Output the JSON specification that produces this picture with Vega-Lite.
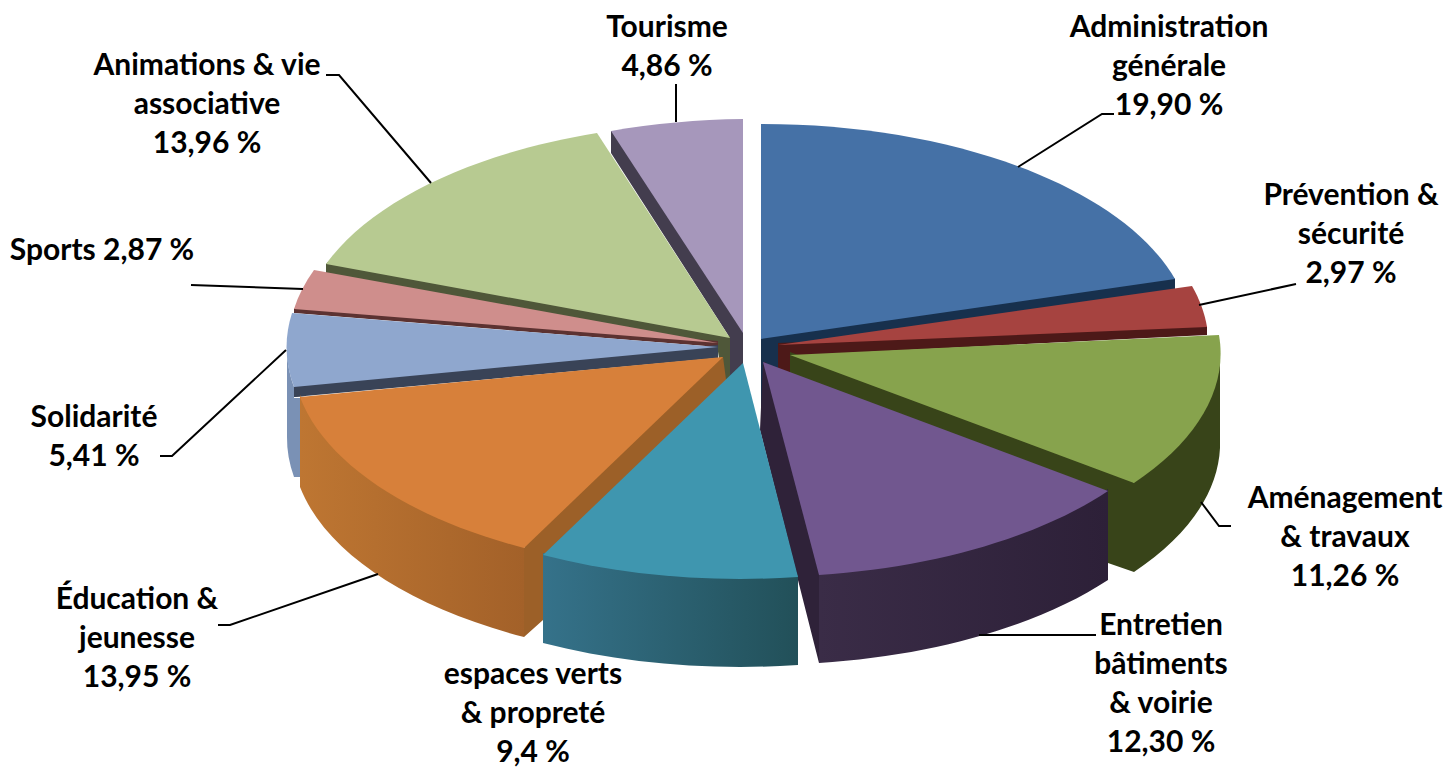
{
"$schema":"https://vega.github.io/schema/vega-lite/v6.json",
"width":1448,"height":768,"padding":0,
"autosize":"none",
"background":"white",
"view":{"stroke":null},
"config":{"style":{"cell":{"stroke":null}}},
"data":{"values":[
{"poste":"Tourisme","rang":10,"part":4.86,"etiquette":"Tourisme\n4,86 %"},
{"poste":"Animations","rang":9,"part":13.96,"etiquette":"Animations & vie\nassociative\n13,96 %"},
{"poste":"Administration","rang":1,"part":19.90,"etiquette":"Administration\ngénérale\n19,90 %"},
{"poste":"Prévention","rang":2,"part":2.97,"etiquette":"Prévention &\nsécurité\n2,97 %"},
{"poste":"Sports","rang":8,"part":2.87,"etiquette":"Sports 2,87 %"},
{"poste":"Solidarité","rang":7,"part":5.41,"etiquette":"Solidarité\n5,41 %"},
{"poste":"Aménagement","rang":3,"part":11.26,"etiquette":"Aménagement\n& travaux\n11,26 %"},
{"poste":"Éducation","rang":6,"part":13.95,"etiquette":"Éducation &\njeunesse\n13,95 %"},
{"poste":"Entretien","rang":4,"part":12.30,"etiquette":"Entretien\nbâtiments\n& voirie\n12,30 %"},
{"poste":"Espaces","rang":5,"part":9.4,"etiquette":"espaces verts\n& propreté\n9,4 %"}
]},
"resolve":{"scale":{"shape":"independent","fill":"independent","stroke":"independent"}},
"layer":[
{"transform":[{"filter":"datum.poste !== 'Espaces'"}],
 "mark":{"type":"point","filled":true,"opacity":1,"size":4,"strokeWidth":0},
 "encoding":{
  "shape":{"field":"poste","type":"nominal","legend":null,"scale":{
   "domain":["Tourisme","Animations","Administration","Prévention","Sports","Solidarité","Aménagement","Éducation","Entretien"],
   "range":[
    "M-113,-253 L-110,-253 L19,-55 L19,-19 L6,-5 L6,-46 L-113,-231 Z",
    "M-398,-120 L-396,-122 L6,-48 L6,-5 L-1,1 L-7,-39 L-398,-109 Z",
    "M37,-47 L449,-107 L451,-105 L451,-94 L66,-24 L66,16 L39,46 L37,44 Z",
    "M54,-41 L481,-59 L483,-57 L483,-49 L66,-28 L66,-9 L54,-16 Z",
    "M-430,-75 L-428,-77 L-6,-43 L-6,-37 L-430,-71 Z",
    "M-430,3 L-428,1 L-6,-39 L-6,-26 L-430,13 Z",
    "M66,-32 L408,95 L410,99 L410,188 L384,179 L384,112 L66,-8 Z",
    "M-1,-27 L3,3 L-178,175 L-181,236 L-200,253 L-200,164 L-198,160 L-3,-27 Z",
    "M39,-22 L42,-22 L99,188 L95,191 L95,279 L36,46 Z"
   ]}},
  "fill":{"field":"poste","type":"nominal","legend":null,"scale":{
   "domain":["Tourisme","Animations","Administration","Prévention","Sports","Solidarité","Aménagement","Éducation","Entretien"],
   "range":["#433D4E","#4F5739","#17304D","#4D1918","#5C3231","#394357","#384419","#9C6028","#2F2239"]}}
 }},
{"transform":[{"filter":"datum.poste === 'Solidarité' || datum.poste === 'Aménagement'"}],
 "mark":{"type":"point","filled":true,"opacity":1,"size":4,"strokeWidth":0},
 "encoding":{
  "shape":{"field":"poste","type":"nominal","legend":null,"scale":{
   "domain":["Solidarité","Aménagement"],
   "range":[
    "M-437,-39 A430,215 0 0 0 -430,3 L-430,14 L-422,14 L-422,93 L-430,93 A430,215 0 0 1 -437,53 Z",
    "M410,97 A430,215 0 0 0 496,-26 L496,64 A430,215 0 0 1 410,188 Z"
   ]}},
  "fill":{"field":"poste","type":"nominal","legend":null,"scale":{
   "domain":["Solidarité","Aménagement"],
   "range":["#7A91B5","#384419"]}}
 }},
{"transform":[{"filter":"datum.poste === 'Solidarité'"}],
 "mark":{"type":"point","filled":true,"opacity":1,"size":4,"strokeWidth":0,"fill":"#394357"},
 "encoding":{
  "shape":{"field":"poste","type":"nominal","legend":null,"scale":{
   "domain":["Solidarité"],
   "range":["M-430,3 L-418,2 L-418,12 L-430,13 Z"]}}
 }},
{"transform":[{"filter":"datum.poste === 'Éducation'"}],
 "mark":{"type":"point","filled":true,"opacity":1,"size":4,"strokeWidth":0,
  "fill":{"gradient":"linear","x1":0,"y1":0,"x2":1,"y2":0,"stops":[{"offset":0,"color":"#BE7632"},{"offset":1,"color":"#A36129"}]}},
 "encoding":{
  "shape":{"field":"poste","type":"nominal","legend":null,"scale":{
   "domain":["Éducation"],
   "range":["M-424,11 A430,215 0 0 0 -200,162 L-200,253 A430,215 0 0 1 -424,103 Z"]}}
 }},
{"transform":[{"filter":"datum.poste === 'Entretien'"}],
 "mark":{"type":"point","filled":true,"opacity":1,"size":4,"strokeWidth":0,
  "fill":{"gradient":"linear","x1":0,"y1":0,"x2":1,"y2":0,"stops":[{"offset":0,"color":"#3A2C47"},{"offset":1,"color":"#2D2038"}]}},
 "encoding":{
  "shape":{"field":"poste","type":"nominal","legend":null,"scale":{
   "domain":["Entretien"],
   "range":["M95,189 A430,215 0 0 0 384,105 L384,196 A430,215 0 0 1 95,279 Z"]}}
 }},
{"transform":[{"filter":"datum.poste === 'Espaces'"}],
 "mark":{"type":"point","filled":true,"opacity":1,"size":4,"strokeWidth":0,
  "fill":{"gradient":"linear","x1":0,"y1":0,"x2":1,"y2":0,"stops":[{"offset":0,"color":"#35728A"},{"offset":1,"color":"#225059"}]}},
 "encoding":{
  "shape":{"field":"poste","type":"nominal","legend":null,"scale":{
   "domain":["Espaces"],
   "range":["M-181,169 A430,215 0 0 0 74,191 L74,281 A430,215 0 0 1 -181,259 Z"]}}
 }},
{"mark":{"type":"point","filled":true,"opacity":1,"size":4,"strokeWidth":0},
 "encoding":{
  "shape":{"field":"poste","type":"nominal","legend":null,"scale":{
   "domain":["Tourisme","Animations","Administration","Prévention","Sports","Solidarité","Aménagement","Éducation","Entretien","Espaces"],
   "range":[
    "M19,-51 L-113,-253 A430,215 0 0 1 19,-265 Z",
    "M6,-46 L-398,-120 A430,215 0 0 1 -127,-251 Z",
    "M37,-45 L37,-260 A430,215 0 0 1 451,-105 Z",
    "M54,-39 L468,-98 A430,215 0 0 1 483,-57 Z",
    "M-6,-41 L-430,-75 A430,215 0 0 1 -410,-114 Z",
    "M-6,-37 L-430,3 A430,215 0 0 1 -432,-71 Z",
    "M66,-29 L495,-49 A430,215 0 0 1 410,99 Z",
    "M-1,-27 L-200,164 A430,215 0 0 1 -424,13 Z",
    "M39,-22 L384,107 A430,215 0 0 1 95,191 Z",
    "M19,-21 L74,193 A430,215 0 0 1 -181,171 Z"
   ]}},
  "fill":{"field":"poste","type":"nominal","legend":null,"scale":{
   "domain":["Tourisme","Animations","Administration","Prévention","Sports","Solidarité","Aménagement","Éducation","Entretien","Espaces"],
   "range":["#A697BB","#B7CA91","#4571A6","#A64340","#CF8E8C","#8FA7CE","#87A34D","#D7803A","#71578F","#3F96AF"]}}
 }},
{"mark":{"type":"point","filled":false,"fill":null,"opacity":1,"size":4,"strokeWidth":2,"stroke":"#000000"},
 "encoding":{
  "shape":{"field":"poste","type":"nominal","legend":null,"scale":{
   "domain":["Tourisme","Animations","Administration","Prévention","Sports","Solidarité","Aménagement","Éducation","Entretien","Espaces"],
   "range":[
    "M-48,-262 L-48,-300",
    "M-293,-201 L-385,-309 L-398,-309",
    "M294,-217 L378,-270 L390,-270",
    "M475,-79 L572,-100",
    "M-421,-95 L-533,-99",
    "M-438,-34 L-552,72 L-564,72",
    "M477,118 L495,142 L507,142",
    "M-346,190 L-494,241 L-506,241",
    "M255,251 L372,251",
    "M0,0"
   ]}}
 }},
{"mark":{"type":"text","font":"Lato","fontSize":30,"fontWeight":"bold","align":"center","baseline":"middle","lineBreak":"\n","lineHeight":39,"color":"#000000"},
 "encoding":{
  "text":{"field":"etiquette","type":"nominal"},
  "x":{"field":"rang","type":"quantitative","axis":null,"scale":{"zero":false,"nice":false,"domain":[1,2,3,4,5,6,7,8,9,10],"range":[1169,1351,1345,1161,533,137,94,102,207,667]}},
  "y":{"field":"rang","type":"quantitative","axis":null,"scale":{"zero":false,"nice":false,"domain":[1,2,3,4,5,6,7,8,9,10],"range":[28,196,499,626,675,600,418,251,66,28]}}
 }}
]
}
